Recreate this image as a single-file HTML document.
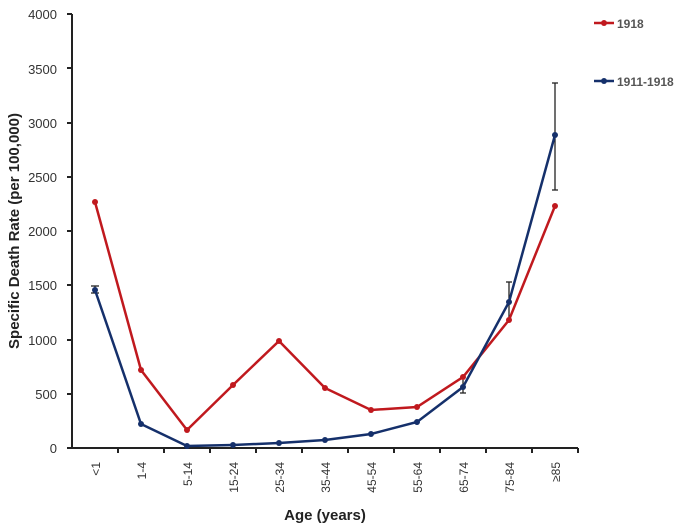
<!DOCTYPE html><html><head><style>body{margin:0;background:#fff}</style></head><body>
<svg width="685" height="525" xmlns="http://www.w3.org/2000/svg" font-family="Liberation Sans, sans-serif">
<g font-size="13" fill="#333" text-anchor="end">
<text x="57" y="453">0</text><text x="57" y="399">500</text><text x="57" y="345">1000</text><text x="57" y="290">1500</text><text x="57" y="236">2000</text><text x="57" y="182">2500</text><text x="57" y="128">3000</text><text x="57" y="74">3500</text><text x="57" y="19">4000</text>
</g>
<g stroke="#222" stroke-width="2">
<line x1="72" y1="14" x2="72" y2="449"/><line x1="71" y1="448" x2="578" y2="448"/>
<line x1="67" y1="448" x2="72" y2="448"/><line x1="67" y1="394" x2="72" y2="394"/><line x1="67" y1="340" x2="72" y2="340"/><line x1="67" y1="285" x2="72" y2="285"/><line x1="67" y1="231" x2="72" y2="231"/><line x1="67" y1="177" x2="72" y2="177"/><line x1="67" y1="123" x2="72" y2="123"/><line x1="67" y1="68" x2="72" y2="68"/><line x1="67" y1="14" x2="72" y2="14"/>
<line x1="118" y1="448" x2="118" y2="453"/><line x1="164" y1="448" x2="164" y2="453"/><line x1="210" y1="448" x2="210" y2="453"/><line x1="256" y1="448" x2="256" y2="453"/><line x1="302" y1="448" x2="302" y2="453"/><line x1="348" y1="448" x2="348" y2="453"/><line x1="394" y1="448" x2="394" y2="453"/><line x1="440" y1="448" x2="440" y2="453"/><line x1="486" y1="448" x2="486" y2="453"/><line x1="532" y1="448" x2="532" y2="453"/><line x1="578" y1="448" x2="578" y2="453"/>
</g>
<g font-size="12" fill="#333" text-anchor="end">
<text transform="translate(100,462) rotate(-90)">&lt;1</text><text transform="translate(146,462) rotate(-90)">1-4</text><text transform="translate(192,462) rotate(-90)">5-14</text><text transform="translate(238,462) rotate(-90)">15-24</text><text transform="translate(284,462) rotate(-90)">25-34</text><text transform="translate(330,462) rotate(-90)">35-44</text><text transform="translate(376,462) rotate(-90)">45-54</text><text transform="translate(422,462) rotate(-90)">55-64</text><text transform="translate(468,462) rotate(-90)">65-74</text><text transform="translate(514,462) rotate(-90)">75-84</text><text transform="translate(560,462) rotate(-90)">≥85</text>
</g>
<text x="325" y="520" font-size="15" font-weight="bold" text-anchor="middle" fill="#222">Age (years)</text>
<text transform="translate(19,231) rotate(-90)" font-size="15" font-weight="bold" text-anchor="middle" fill="#222">Specific Death Rate (per 100,000)</text>
<g stroke="#222" stroke-width="1.3">
<line x1="95" y1="286" x2="95" y2="293"/><line x1="91" y1="286" x2="99" y2="286"/><line x1="91" y1="293" x2="99" y2="293"/>
<line x1="417" y1="420" x2="417" y2="425"/>
<line x1="463" y1="380" x2="463" y2="393"/><line x1="460" y1="393" x2="466" y2="393"/>
<line x1="509" y1="282" x2="509" y2="320"/><line x1="506" y1="282" x2="512" y2="282"/>
<line x1="555" y1="83" x2="555" y2="190"/><line x1="552" y1="83" x2="558" y2="83"/><line x1="552" y1="190" x2="558" y2="190"/>
</g>
<polyline fill="none" stroke="#c0191e" stroke-width="2.5" points="95,202 141,370 187,430 233,385 279,341 325,388 371,410 417,407 463,377 509,320 555,206"/>
<g fill="#c0191e"><circle cx="95" cy="202" r="3"/><circle cx="141" cy="370" r="3"/><circle cx="187" cy="430" r="3"/><circle cx="233" cy="385" r="3"/><circle cx="279" cy="341" r="3"/><circle cx="325" cy="388" r="3"/><circle cx="371" cy="410" r="3"/><circle cx="417" cy="407" r="3"/><circle cx="463" cy="377" r="3"/><circle cx="509" cy="320" r="3"/><circle cx="555" cy="206" r="3"/></g>
<polyline fill="none" stroke="#15306b" stroke-width="2.5" points="95,290 141,424 187,446 233,445 279,443 325,440 371,434 417,422 463,387 509,302 555,135"/>
<g fill="#15306b"><circle cx="95" cy="290" r="3"/><circle cx="141" cy="424" r="3"/><circle cx="187" cy="446" r="3"/><circle cx="233" cy="445" r="3"/><circle cx="279" cy="443" r="3"/><circle cx="325" cy="440" r="3"/><circle cx="371" cy="434" r="3"/><circle cx="417" cy="422" r="3"/><circle cx="463" cy="387" r="3"/><circle cx="509" cy="302" r="3"/><circle cx="555" cy="135" r="3"/></g>
<line x1="594" y1="23" x2="614" y2="23" stroke="#c0191e" stroke-width="2.5"/><circle cx="604" cy="23" r="3" fill="#c0191e"/>
<text x="617" y="28" font-size="12" font-weight="bold" fill="#555">1918</text>
<line x1="594" y1="81" x2="614" y2="81" stroke="#15306b" stroke-width="2.5"/><circle cx="604" cy="81" r="3" fill="#15306b"/>
<text x="617" y="86" font-size="12" font-weight="bold" fill="#555">1911-1918</text>
</svg></body></html>
